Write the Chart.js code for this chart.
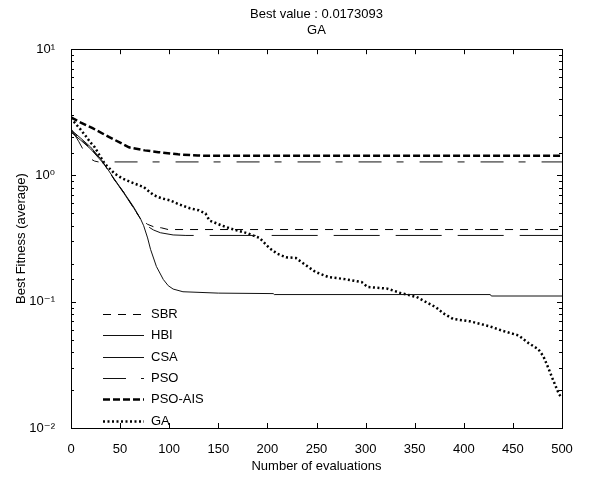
<!DOCTYPE html>
<html>
<head>
<meta charset="utf-8">
<script src="https://cdn.jsdelivr.net/npm/chart.js@4.4.0/dist/chart.umd.min.js"></script>
<style>
  body { margin: 0; background: #fff; }
  #wrap { width: 595px; height: 483px; }
</style>
</head>
<body>
<div id="wrap"><canvas id="fitness" width="595" height="483"></canvas></div>
<script>
// evaluations (x) and best fitness (y) for each method
const sbrX = [0, 10, 20, 31, 44, 54, 64, 71, 78, 85, 92, 99, 500];
const sbrY = [2.25, 1.93, 1.64, 1.32, 0.93, 0.73, 0.55, 0.45, 0.41, 0.39, 0.385, 0.373, 0.373];

const hbiX = [0, 10, 20, 31, 44, 54, 64, 71, 74, 78, 81, 87, 94, 99, 104, 114, 150, 206, 207, 427, 428, 500];
const hbiY = [2.3, 1.97, 1.68, 1.33, 0.94, 0.73, 0.56, 0.45, 0.40, 0.32, 0.26, 0.19, 0.15, 0.134, 0.126, 0.12, 0.117, 0.116, 0.114, 0.114, 0.111, 0.111];

const csaX = [0, 10, 20, 31, 44, 54, 64, 71, 77, 84, 91, 104, 117, 500];
const csaY = [2.2, 1.9, 1.62, 1.3, 0.93, 0.72, 0.55, 0.45, 0.40, 0.37, 0.352, 0.338, 0.335, 0.335];

const psoX = [0, 8, 14, 18, 24, 28, 500];
const psoY = [2.35, 1.85, 1.52, 1.38, 1.30, 1.28, 1.28];

const psoAisX = [0, 10, 22, 39, 50, 59, 75, 89, 109, 129, 140, 500];
const psoAisY = [2.89, 2.62, 2.37, 2.01, 1.82, 1.67, 1.58, 1.53, 1.47, 1.44, 1.43, 1.43];

const gaX = [0, 5, 10, 15, 20, 24, 29, 34, 44, 52, 61, 74, 84, 92, 101, 110, 121, 130, 137, 141, 154, 167, 179, 192, 202, 210, 219, 229, 239, 249, 262, 279, 296, 302, 322, 336, 352, 362, 372, 379, 389, 406, 426, 439, 456, 466, 476, 481, 486, 490, 494, 497, 500];
const gaY = [2.85, 2.55, 2.3, 2.05, 1.82, 1.68, 1.45, 1.25, 1.04, 0.95, 0.885, 0.81, 0.70, 0.66, 0.635, 0.59, 0.55, 0.53, 0.50, 0.44, 0.40, 0.37, 0.35, 0.32, 0.266, 0.24, 0.225, 0.222, 0.195, 0.172, 0.157, 0.151, 0.143, 0.131, 0.127, 0.117, 0.109, 0.099, 0.090, 0.081, 0.073, 0.070, 0.064, 0.059, 0.054, 0.047, 0.042, 0.037, 0.030, 0.025, 0.021, 0.0185, 0.0173];

const xTicks = [0, 50, 100, 150, 200, 250, 300, 350, 400, 450, 500];
const titleLines = ['Best value : 0.0173093', 'GA'];

const FONT = "'Liberation Sans', Arial, 'DejaVu Sans', sans-serif";
Chart.defaults.font.family = FONT;
Chart.defaults.font.size = 13;
Chart.defaults.color = '#000';

function pts(xs, ys) {
  return xs.map((x, i) => ({ x: x, y: ys[i] }));
}

const sup = { '-': '\u207B', '0': '\u2070', '1': '\u00B9', '2': '\u00B2' };
function isDecade(v) {
  const l = Math.log10(v);
  return Math.abs(l - Math.round(l)) < 1e-6;
}

function line(ctx, x1, y1, x2, y2) {
  ctx.beginPath();
  ctx.moveTo(x1, y1);
  ctx.lineTo(x2, y2);
  ctx.stroke();
}

// box + inside tick marks, matlab style
const frame = {
  id: 'frame',
  afterDraw(chart) {
    const ctx = chart.ctx, a = chart.chartArea;
    const xs = chart.scales.x, ys = chart.scales.y;
    ctx.save();
    ctx.strokeStyle = '#000';
    ctx.lineWidth = 1;
    ctx.strokeRect(Math.round(a.left) + 0.5, Math.round(a.top) + 0.5,
      Math.round(a.right - a.left), Math.round(a.bottom - a.top));
    xs.ticks.forEach(t => {
      const px = Math.round(xs.getPixelForValue(t.value)) + 0.5;
      line(ctx, px, a.bottom, px, a.bottom - 5);
      line(ctx, px, a.top, px, a.top + 5);
    });
    ys.ticks.forEach(t => {
      const py = Math.round(ys.getPixelForValue(t.value)) + 0.5;
      const len = isDecade(t.value) ? 5 : 3;
      line(ctx, a.left, py, a.left + len, py);
      line(ctx, a.right, py, a.right - len, py);
    });
    ctx.restore();
  }
};

// legend drawn inside the plot, lower left
const insideLegend = {
  id: 'insideLegend',
  afterDatasetsDraw(chart) {
    const ctx = chart.ctx, a = chart.chartArea;
    const sets = chart.data.datasets;
    ctx.save();
    ctx.font = '13px ' + FONT;
    ctx.textBaseline = 'middle';
    ctx.fillStyle = '#000';
    sets.forEach((ds, i) => {
      const y = Math.round(a.bottom - 114 + i * 21.3) + 0.5;
      ctx.strokeStyle = ds.borderColor;
      ctx.lineWidth = ds.borderWidth;
      ctx.setLineDash(ds.legendDash || ds.borderDash || []);
      line(ctx, a.left + 32, y, a.left + 73, y);
      ctx.setLineDash([]);
      ctx.fillText(ds.label, a.left + 80, y);
    });
    ctx.restore();
  }
};

const ctx = document.getElementById('fitness').getContext('2d');
new Chart(ctx, {
  type: 'line',
  data: {
    datasets: [
      { label: 'SBR', data: pts(sbrX, sbrY), borderColor: '#000', borderWidth: 1, borderDash: [8, 7] },
      { label: 'HBI', data: pts(hbiX, hbiY), borderColor: '#111', borderWidth: 1, borderDash: [] },
      { label: 'CSA', data: pts(csaX, csaY), borderColor: '#111', borderWidth: 1, borderDash: [46, 16], legendDash: [] },
      { label: 'PSO', data: pts(psoX, psoY), borderColor: '#111', borderWidth: 1, borderDash: [23, 15, 7, 16] },
      { label: 'PSO-AIS', data: pts(psoAisX, psoAisY), borderColor: '#000', borderWidth: 2.5, borderDash: [7, 3] },
      { label: 'GA', data: pts(gaX, gaY), borderColor: '#000', borderWidth: 2.5, borderDash: [2, 2.5] }
    ]
  },
  options: {
    responsive: false,
    devicePixelRatio: 1,
    animation: false,
    elements: {
      point: { radius: 0 },
      line: { tension: 0, fill: false }
    },
    layout: { padding: { left: 0, right: 33, top: 0, bottom: 0 } },
    plugins: {
      legend: { display: false },
      tooltip: { enabled: false },
      title: {
        display: true,
        text: titleLines,
        fullSize: false,
        color: '#000',
        font: { size: 13, weight: 'normal', lineHeight: 1.2 },
        padding: { top: 7, bottom: 11 }
      }
    },
    scales: {
      x: {
        type: 'linear',
        min: 0,
        max: 500,
        grid: { display: false },
        border: { display: false },
        afterBuildTicks(s) { s.ticks = xTicks.map(v => ({ value: v })); },
        ticks: { padding: 6, maxRotation: 0, autoSkip: false, callback: v => String(v) },
        title: { display: true, text: 'Number of evaluations', font: { size: 13 }, padding: { top: 0, bottom: 9 } },
        afterFit(s) { s.height = 55; }
      },
      y: {
        type: 'logarithmic',
        min: 0.01,
        max: 10,
        grid: { display: false },
        border: { display: false },
        ticks: {
          autoSkip: false,
          padding: 8,
          callback: v => {
            if (!isDecade(v)) return '';
            const e = String(Math.round(Math.log10(v)));
            return '10' + e.split('').map(c => sup[c]).join('');
          }
        },
        title: { display: true, text: 'Best Fitness (average)', font: { size: 13 }, padding: { top: 14, bottom: 0 } },
        afterFit(s) { s.width = 71; }
      }
    }
  },
  plugins: [frame, insideLegend]
});
</script>
</body>
</html>
